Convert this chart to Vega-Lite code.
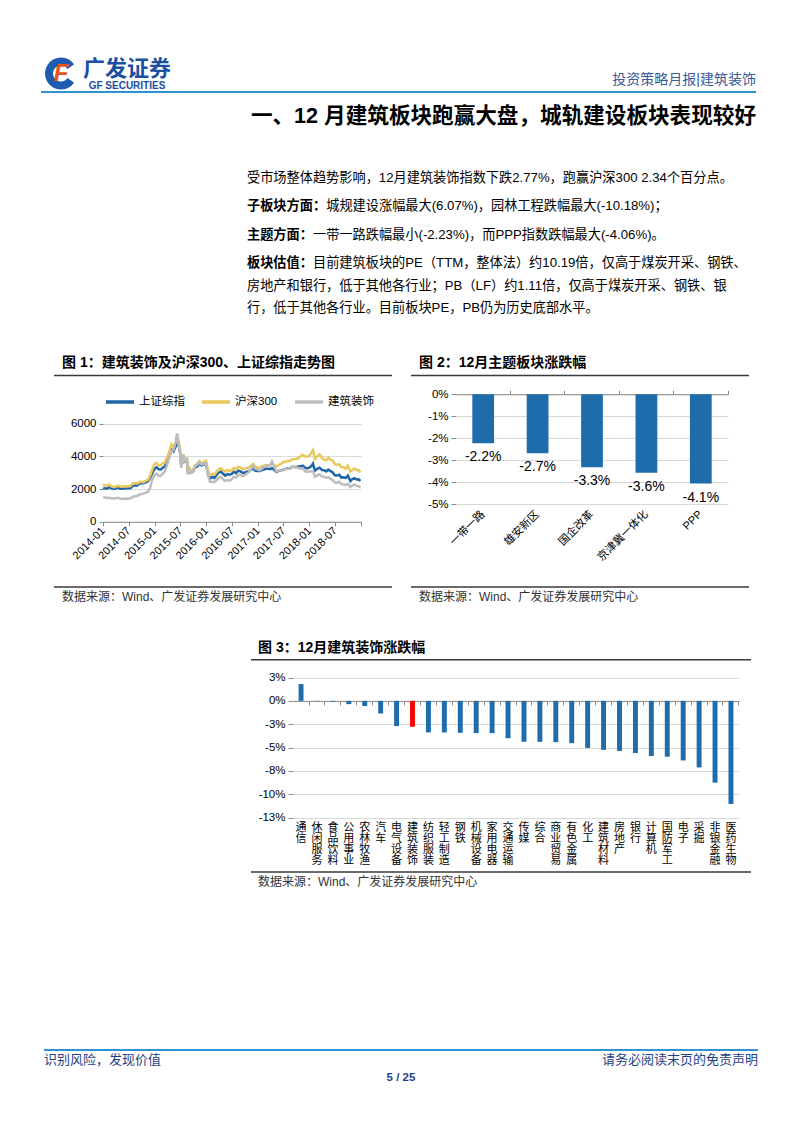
{
  "$schema": "https://vega.github.io/schema/vega-lite/v6.json",
  "background": "#ffffff",
  "padding": {"left": 40, "top": 55, "right": 0, "bottom": 0},
  "config": {
    "font": "Liberation Sans, Noto Sans CJK SC",
    "view": {"stroke": null},
    "mark": {"font": "Liberation Sans, Noto Sans CJK SC"},
    "axis": {"labelFont": "Liberation Sans, Noto Sans CJK SC", "labelColor": "#000000", "labelFontSize": 11, "domainColor": "#898989", "tickColor": "#898989", "gridColor": "#D9D9D9", "title": null},
    "legend": {"labelFont": "Liberation Sans, Noto Sans CJK SC", "labelColor": "#000000"},
    "title": {"font": "Liberation Sans, Noto Sans CJK SC", "color": "#000000"}
  },
  "datasets": {
    "paras": [
      {"para": 1, "lead": "", "first": "受市场整体趋势影响，12月建筑装饰指数下跌2.77%，跑赢沪深300 2.34个百分点。", "rest": ""},
      {"para": 2, "lead": "子板块方面：", "first": "城规建设涨幅最大(6.07%)，园林工程跌幅最大(-10.18%)；", "rest": ""},
      {"para": 3, "lead": "主题方面：", "first": "一带一路跌幅最小(-2.23%)，而PPP指数跌幅最大(-4.06%)。", "rest": ""},
      {"para": 4, "lead": "板块估值：", "first": "目前建筑板块的PE（TTM，整体法）约10.19倍，仅高于煤炭开采、钢铁、", "rest": "房地产和银行，低于其他各行业；PB（LF）约1.11倍，仅高于煤炭开采、钢铁、银\n行，低于其他各行业。目前板块PE，PB仍为历史底部水平。"}
    ],
    "idx": [
      {"date": "2014-01-02", "sh": 2080, "hs": 2290, "jz": 1500},
      {"date": "2014-01-15", "sh": 2030, "hs": 2222, "jz": 1480},
      {"date": "2014-01-31", "sh": 2033, "hs": 2203, "jz": 1450},
      {"date": "2014-02-15", "sh": 2115, "hs": 2280, "jz": 1470},
      {"date": "2014-02-28", "sh": 2056, "hs": 2179, "jz": 1440},
      {"date": "2014-03-15", "sh": 2004, "hs": 2120, "jz": 1420},
      {"date": "2014-03-31", "sh": 2033, "hs": 2146, "jz": 1440},
      {"date": "2014-04-15", "sh": 2105, "hs": 2203, "jz": 1460},
      {"date": "2014-04-30", "sh": 2026, "hs": 2158, "jz": 1420},
      {"date": "2014-05-15", "sh": 2025, "hs": 2155, "jz": 1400},
      {"date": "2014-05-31", "sh": 2039, "hs": 2160, "jz": 1410},
      {"date": "2014-06-15", "sh": 2070, "hs": 2175, "jz": 1420},
      {"date": "2014-06-30", "sh": 2048, "hs": 2165, "jz": 1410},
      {"date": "2014-07-15", "sh": 2067, "hs": 2185, "jz": 1440},
      {"date": "2014-07-31", "sh": 2201, "hs": 2350, "jz": 1520},
      {"date": "2014-08-15", "sh": 2226, "hs": 2367, "jz": 1560},
      {"date": "2014-08-31", "sh": 2217, "hs": 2338, "jz": 1580},
      {"date": "2014-09-15", "sh": 2343, "hs": 2440, "jz": 1660},
      {"date": "2014-09-30", "sh": 2363, "hs": 2450, "jz": 1700},
      {"date": "2014-10-15", "sh": 2373, "hs": 2440, "jz": 1720},
      {"date": "2014-10-31", "sh": 2420, "hs": 2508, "jz": 1780},
      {"date": "2014-11-15", "sh": 2478, "hs": 2565, "jz": 1840},
      {"date": "2014-11-30", "sh": 2683, "hs": 2808, "jz": 2050},
      {"date": "2014-12-15", "sh": 2953, "hs": 3185, "jz": 2600},
      {"date": "2014-12-31", "sh": 3235, "hs": 3534, "jz": 2850},
      {"date": "2015-01-15", "sh": 3336, "hs": 3604, "jz": 2950},
      {"date": "2015-01-31", "sh": 3210, "hs": 3434, "jz": 2800},
      {"date": "2015-02-15", "sh": 3203, "hs": 3451, "jz": 2820},
      {"date": "2015-02-28", "sh": 3310, "hs": 3572, "jz": 2950},
      {"date": "2015-03-15", "sh": 3373, "hs": 3624, "jz": 3100},
      {"date": "2015-03-31", "sh": 3748, "hs": 3973, "jz": 3500},
      {"date": "2015-04-15", "sh": 4084, "hs": 4285, "jz": 3900},
      {"date": "2015-04-30", "sh": 4442, "hs": 4749, "jz": 4300},
      {"date": "2015-05-15", "sh": 4308, "hs": 4589, "jz": 4400},
      {"date": "2015-05-31", "sh": 4612, "hs": 4841, "jz": 4900},
      {"date": "2015-06-10", "sh": 5166, "hs": 5354, "jz": 5400},
      {"date": "2015-06-30", "sh": 4277, "hs": 4473, "jz": 4300},
      {"date": "2015-07-08", "sh": 3507, "hs": 3664, "jz": 3300},
      {"date": "2015-07-24", "sh": 4070, "hs": 4121, "jz": 4100},
      {"date": "2015-07-31", "sh": 3664, "hs": 3816, "jz": 3700},
      {"date": "2015-08-18", "sh": 3749, "hs": 3880, "jz": 3800},
      {"date": "2015-08-26", "sh": 2927, "hs": 3025, "jz": 2900},
      {"date": "2015-08-31", "sh": 3206, "hs": 3366, "jz": 3200},
      {"date": "2015-09-15", "sh": 3005, "hs": 3154, "jz": 3000},
      {"date": "2015-09-30", "sh": 3053, "hs": 3203, "jz": 3050},
      {"date": "2015-10-15", "sh": 3338, "hs": 3469, "jz": 3400},
      {"date": "2015-10-31", "sh": 3383, "hs": 3534, "jz": 3500},
      {"date": "2015-11-15", "sh": 3580, "hs": 3719, "jz": 3650},
      {"date": "2015-11-30", "sh": 3445, "hs": 3566, "jz": 3500},
      {"date": "2015-12-15", "sh": 3510, "hs": 3666, "jz": 3550},
      {"date": "2015-12-31", "sh": 3539, "hs": 3731, "jz": 3600},
      {"date": "2016-01-15", "sh": 2900, "hs": 3118, "jz": 2800},
      {"date": "2016-01-28", "sh": 2655, "hs": 2853, "jz": 2450},
      {"date": "2016-02-15", "sh": 2746, "hs": 2929, "jz": 2450},
      {"date": "2016-02-29", "sh": 2688, "hs": 2877, "jz": 2420},
      {"date": "2016-03-15", "sh": 2864, "hs": 3069, "jz": 2550},
      {"date": "2016-03-31", "sh": 3004, "hs": 3218, "jz": 2700},
      {"date": "2016-04-15", "sh": 3078, "hs": 3272, "jz": 2750},
      {"date": "2016-04-30", "sh": 2938, "hs": 3156, "jz": 2600},
      {"date": "2016-05-15", "sh": 2827, "hs": 3078, "jz": 2500},
      {"date": "2016-05-31", "sh": 2917, "hs": 3170, "jz": 2550},
      {"date": "2016-06-15", "sh": 2887, "hs": 3116, "jz": 2520},
      {"date": "2016-06-30", "sh": 2930, "hs": 3154, "jz": 2600},
      {"date": "2016-07-15", "sh": 3054, "hs": 3281, "jz": 2750},
      {"date": "2016-07-31", "sh": 2979, "hs": 3204, "jz": 2700},
      {"date": "2016-08-15", "sh": 3125, "hs": 3375, "jz": 2880},
      {"date": "2016-08-31", "sh": 3085, "hs": 3327, "jz": 2850},
      {"date": "2016-09-15", "sh": 3003, "hs": 3235, "jz": 2800},
      {"date": "2016-09-30", "sh": 3005, "hs": 3253, "jz": 2850},
      {"date": "2016-10-15", "sh": 3064, "hs": 3300, "jz": 2950},
      {"date": "2016-10-31", "sh": 3100, "hs": 3337, "jz": 3050},
      {"date": "2016-11-15", "sh": 3207, "hs": 3450, "jz": 3250},
      {"date": "2016-11-30", "sh": 3250, "hs": 3538, "jz": 3450},
      {"date": "2016-12-15", "sh": 3117, "hs": 3368, "jz": 3250},
      {"date": "2016-12-31", "sh": 3104, "hs": 3310, "jz": 3200},
      {"date": "2017-01-15", "sh": 3112, "hs": 3320, "jz": 3150},
      {"date": "2017-01-31", "sh": 3159, "hs": 3387, "jz": 3250},
      {"date": "2017-02-15", "sh": 3213, "hs": 3440, "jz": 3380},
      {"date": "2017-02-28", "sh": 3242, "hs": 3452, "jz": 3400},
      {"date": "2017-03-15", "sh": 3241, "hs": 3458, "jz": 3450},
      {"date": "2017-03-31", "sh": 3223, "hs": 3456, "jz": 3500},
      {"date": "2017-04-11", "sh": 3289, "hs": 3499, "jz": 3700},
      {"date": "2017-04-30", "sh": 3155, "hs": 3439, "jz": 3350},
      {"date": "2017-05-11", "sh": 3052, "hs": 3385, "jz": 3100},
      {"date": "2017-05-31", "sh": 3117, "hs": 3493, "jz": 3150},
      {"date": "2017-06-15", "sh": 3132, "hs": 3535, "jz": 3120},
      {"date": "2017-06-30", "sh": 3192, "hs": 3666, "jz": 3180},
      {"date": "2017-07-15", "sh": 3222, "hs": 3660, "jz": 3200},
      {"date": "2017-07-31", "sh": 3273, "hs": 3737, "jz": 3250},
      {"date": "2017-08-15", "sh": 3251, "hs": 3712, "jz": 3250},
      {"date": "2017-08-31", "sh": 3361, "hs": 3822, "jz": 3350},
      {"date": "2017-09-15", "sh": 3354, "hs": 3831, "jz": 3380},
      {"date": "2017-09-30", "sh": 3349, "hs": 3837, "jz": 3320},
      {"date": "2017-10-15", "sh": 3390, "hs": 3913, "jz": 3300},
      {"date": "2017-10-31", "sh": 3393, "hs": 4006, "jz": 3250},
      {"date": "2017-11-14", "sh": 3430, "hs": 4100, "jz": 3280},
      {"date": "2017-11-30", "sh": 3317, "hs": 4006, "jz": 3100},
      {"date": "2017-12-15", "sh": 3266, "hs": 3980, "jz": 3050},
      {"date": "2017-12-31", "sh": 3307, "hs": 4031, "jz": 3080},
      {"date": "2018-01-15", "sh": 3410, "hs": 4225, "jz": 3080},
      {"date": "2018-01-26", "sh": 3558, "hs": 4390, "jz": 3100},
      {"date": "2018-02-09", "sh": 3129, "hs": 3840, "jz": 2750},
      {"date": "2018-02-28", "sh": 3259, "hs": 4023, "jz": 2850},
      {"date": "2018-03-13", "sh": 3310, "hs": 4129, "jz": 2900},
      {"date": "2018-03-31", "sh": 3169, "hs": 3899, "jz": 2780},
      {"date": "2018-04-15", "sh": 3159, "hs": 3808, "jz": 2750},
      {"date": "2018-04-30", "sh": 3082, "hs": 3757, "jz": 2700},
      {"date": "2018-05-15", "sh": 3192, "hs": 3903, "jz": 2720},
      {"date": "2018-05-31", "sh": 3095, "hs": 3802, "jz": 2620},
      {"date": "2018-06-15", "sh": 3021, "hs": 3735, "jz": 2550},
      {"date": "2018-06-30", "sh": 2847, "hs": 3510, "jz": 2400},
      {"date": "2018-07-15", "sh": 2831, "hs": 3493, "jz": 2380},
      {"date": "2018-07-31", "sh": 2876, "hs": 3517, "jz": 2450},
      {"date": "2018-08-15", "sh": 2705, "hs": 3335, "jz": 2300},
      {"date": "2018-08-31", "sh": 2725, "hs": 3335, "jz": 2280},
      {"date": "2018-09-15", "sh": 2682, "hs": 3242, "jz": 2250},
      {"date": "2018-09-30", "sh": 2821, "hs": 3439, "jz": 2320},
      {"date": "2018-10-18", "sh": 2486, "hs": 3083, "jz": 2120},
      {"date": "2018-10-31", "sh": 2603, "hs": 3153, "jz": 2200},
      {"date": "2018-11-15", "sh": 2668, "hs": 3257, "jz": 2280},
      {"date": "2018-11-30", "sh": 2588, "hs": 3173, "jz": 2200},
      {"date": "2018-12-15", "sh": 2594, "hs": 3165, "jz": 2180},
      {"date": "2018-12-28", "sh": 2494, "hs": 3011, "jz": 2100}
    ],
    "themes": [
      {"theme": "一带一路", "value": -2.23, "label": "-2.2%"},
      {"theme": "雄安新区", "value": -2.68, "label": "-2.7%"},
      {"theme": "国企改革", "value": -3.32, "label": "-3.3%"},
      {"theme": "京津冀一体化", "value": -3.57, "label": "-3.6%"},
      {"theme": "PPP", "value": -4.06, "label": "-4.1%"}
    ],
    "sectors": [
      {"industry": "通信", "value": 1.8},
      {"industry": "休闲服务", "value": -0.03},
      {"industry": "食品饮料", "value": -0.08},
      {"industry": "公用事业", "value": -0.35},
      {"industry": "农林牧渔", "value": -0.55},
      {"industry": "汽车", "value": -1.35},
      {"industry": "电气设备", "value": -2.7},
      {"industry": "建筑装饰", "value": -2.77},
      {"industry": "纺织服装", "value": -3.37},
      {"industry": "轻工制造", "value": -3.38},
      {"industry": "钢铁", "value": -3.42},
      {"industry": "机械设备", "value": -3.45},
      {"industry": "家用电器", "value": -3.46},
      {"industry": "交通运输", "value": -4.0},
      {"industry": "传媒", "value": -4.38},
      {"industry": "综合", "value": -4.39},
      {"industry": "商业贸易", "value": -4.42},
      {"industry": "有色金属", "value": -4.53},
      {"industry": "化工", "value": -5.04},
      {"industry": "建筑材料", "value": -5.25},
      {"industry": "房地产", "value": -5.36},
      {"industry": "银行", "value": -5.58},
      {"industry": "计算机", "value": -5.9},
      {"industry": "国防军工", "value": -5.98},
      {"industry": "电子", "value": -6.38},
      {"industry": "采掘", "value": -7.13},
      {"industry": "非银金融", "value": -8.76},
      {"industry": "医药生物", "value": -11.04}
    ]
  },
  "spacing": 0,
  "resolve": {"scale": {"color": "independent"}, "legend": {"color": "independent"}},
  "vconcat": [
    {
      "spacing": 0, "bounds": "flush",
      "hconcat": [
        {
          "width": 40, "height": 37,
          "data": {"values": [{"part": "a", "share": 55}, {"part": "b", "share": 70}, {"part": "c", "share": 235}]},
          "layer": [
            {"mark": {"type": "arc", "radius": 16, "radius2": 8},
             "encoding": {"theta": {"field": "share", "type": "quantitative", "stack": true},
                          "color": {"condition": {"test": "datum.part === 'b'", "value": "rgba(255,255,255,0)"}, "value": "#1E5BB1"},
                          "order": {"field": "part"}}},
            {"data": {"values": [{}]}, "mark": {"type": "text", "text": "F", "fontSize": 24, "fontWeight": "bold", "fontStyle": "italic", "color": "#E8541E"}, "encoding": {}},
            {"data": {"values": [{}]}, "mark": {"type": "rule", "color": "#2E93D4", "strokeWidth": 2},
             "encoding": {"x": {"datum": 0, "type": "quantitative", "scale": {"domain": [0, 1], "nice": false, "zero": false}, "axis": null}, "x2": {"datum": 1},
                          "y": {"datum": 0, "type": "quantitative", "scale": {"domain": [0, 1], "nice": false}, "axis": null}}}
          ]
        },
        {
          "width": 92, "height": 37,
          "data": {"values": [{}]},
          "layer": [
            {"mark": {"type": "text", "text": "广发证券", "fontSize": 22, "fontWeight": "bold", "color": "#1B4F9F", "dy": -5}, "encoding": {}},
            {"mark": {"type": "text", "text": "GF SECURITIES", "fontSize": 10, "fontWeight": "bold", "color": "#1B4F9F", "dy": 12.5}, "encoding": {}},
            {"mark": {"type": "rule", "color": "#2E93D4", "strokeWidth": 2},
             "encoding": {"x": {"datum": 0, "type": "quantitative", "scale": {"domain": [0, 1], "nice": false, "zero": false}, "axis": null}, "x2": {"datum": 1},
                          "y": {"datum": 0, "type": "quantitative", "scale": {"domain": [0, 1], "nice": false}, "axis": null}}}
          ]
        },
        {
          "width": 583, "height": 37,
          "data": {"values": [{}]},
          "layer": [
            {"mark": {"type": "text", "text": "投资策略月报|建筑装饰", "align": "right", "fontSize": 14, "color": "#3A5A9A", "dy": 6.5}, "encoding": {"x": {"value": "width"}}},
            {"mark": {"type": "rule", "color": "#2E93D4", "strokeWidth": 2},
             "encoding": {"x": {"datum": 0, "type": "quantitative", "scale": {"domain": [0, 1], "nice": false, "zero": false}, "axis": null}, "x2": {"datum": 1},
                          "y": {"datum": 0, "type": "quantitative", "scale": {"domain": [0, 1], "nice": false}, "axis": null}}}
          ]
        }
      ]
    },
    {
      "spacing": 0, "bounds": "flush",
      "hconcat": [
        {"width": 206, "height": 1, "data": {"values": [{}]}, "mark": {"type": "point", "size": 0, "opacity": 0, "strokeWidth": 0}, "encoding": {}},
        {"width": 509, "height": 78, "data": {"values": [{}]},
         "mark": {"type": "text", "text": "一、12 月建筑板块跑赢大盘，城轨建设板块表现较好", "align": "right", "fontSize": 21.6, "fontWeight": "bold", "color": "#000000", "dy": -15},
         "encoding": {"x": {"value": "width"}}}
      ]
    },
    {
      "spacing": 0, "bounds": "flush",
      "hconcat": [
        {"width": 206, "height": 150, "data": {"values": [{}]}, "mark": {"type": "point", "size": 0, "opacity": 0, "strokeWidth": 0}, "encoding": {}},
        {
          "width": 509, "height": 85,
          "data": {"name": "paras"},
          "encoding": {"y": {"field": "para", "type": "ordinal", "scale": {"type": "point", "padding": 0}, "axis": null}, "x": {"value": 0}},
          "layer": [
            {"mark": {"type": "text", "align": "left", "baseline": "top", "fontSize": 13.2, "fontWeight": "bold", "color": "#000000"}, "encoding": {"text": {"field": "lead"}}},
            {"transform": [{"filter": "length(datum.lead) == 0"}],
             "mark": {"type": "text", "align": "left", "baseline": "top", "fontSize": 13.2, "color": "#000000"}, "encoding": {"text": {"field": "first"}}},
            {"transform": [{"filter": "length(datum.lead) == 5"}],
             "mark": {"type": "text", "align": "left", "baseline": "top", "fontSize": 13.2, "color": "#000000", "dx": 66}, "encoding": {"text": {"field": "first"}}},
            {"transform": [{"filter": "length(datum.lead) == 6"}],
             "mark": {"type": "text", "align": "left", "baseline": "top", "fontSize": 13.2, "color": "#000000", "dx": 79.2}, "encoding": {"text": {"field": "first"}}},
            {"transform": [{"filter": "length(datum.rest) > 0"}],
             "mark": {"type": "text", "align": "left", "baseline": "top", "fontSize": 13.2, "lineHeight": 22.5, "lineBreak": "\n", "color": "#000000", "dy": 22.5}, "encoding": {"text": {"field": "rest"}}}
          ]
        }
      ]
    },
    {
      "spacing": 0, "bounds": "flush",
      "hconcat": [
        {"width": 13, "height": 1, "data": {"values": [{}]}, "mark": {"type": "point", "size": 0, "opacity": 0, "strokeWidth": 0}, "encoding": {}},
        {
          "width": 338, "height": 53.5, "data": {"values": [{}]},
          "layer": [
            {"mark": {"type": "text", "text": "图 1：建筑装饰及沪深300、上证综指走势图", "align": "left", "fontSize": 14, "fontWeight": "bold", "color": "#000000", "dx": 8, "dy": 14.25}, "encoding": {"x": {"value": 0}}},
            {"mark": {"type": "rule", "color": "#3A3A3A", "strokeWidth": 1.5},
             "encoding": {"x": {"datum": 0, "type": "quantitative", "scale": {"domain": [0, 1], "nice": false, "zero": false}, "axis": null}, "x2": {"datum": 1},
                          "y": {"datum": 0, "type": "quantitative", "scale": {"domain": [0, 1], "nice": false}, "axis": null}}}
          ]
        },
        {"width": 19, "height": 1, "data": {"values": [{}]}, "mark": {"type": "point", "size": 0, "opacity": 0, "strokeWidth": 0}, "encoding": {}},
        {
          "width": 338, "height": 53.5, "data": {"values": [{}]},
          "layer": [
            {"mark": {"type": "text", "text": "图 2：12月主题板块涨跌幅", "align": "left", "fontSize": 14, "fontWeight": "bold", "color": "#000000", "dx": 8, "dy": 14.25}, "encoding": {"x": {"value": 0}}},
            {"mark": {"type": "rule", "color": "#3A3A3A", "strokeWidth": 1.5},
             "encoding": {"x": {"datum": 0, "type": "quantitative", "scale": {"domain": [0, 1], "nice": false, "zero": false}, "axis": null}, "x2": {"datum": 1},
                          "y": {"datum": 0, "type": "quantitative", "scale": {"domain": [0, 1], "nice": false}, "axis": null}}}
          ]
        }
      ]
    },
    {
      "spacing": 0, "bounds": "flush",
      "resolve": {"scale": {"color": "independent"}, "legend": {"color": "independent"}},
      "hconcat": [
        {"width": 61.7, "height": 208.75, "data": {"values": [{}]}, "mark": {"type": "point", "size": 0, "opacity": 0, "strokeWidth": 0}, "encoding": {}},
        {
          "width": 258, "height": 144.75,
          "data": {"name": "idx"},
          "encoding": {
            "x": {"field": "date", "type": "temporal",
                  "scale": {"type": "utc", "domain": [{"year": 2014, "month": 1, "date": 1, "utc": true}, {"year": 2019, "month": 1, "date": 1, "utc": true}], "nice": false},
                  "axis": {"values": [
                    {"year": 2014, "month": 1, "date": 1, "utc": true}, {"year": 2014, "month": 7, "date": 1, "utc": true},
                    {"year": 2015, "month": 1, "date": 1, "utc": true}, {"year": 2015, "month": 7, "date": 1, "utc": true},
                    {"year": 2016, "month": 1, "date": 1, "utc": true}, {"year": 2016, "month": 7, "date": 1, "utc": true},
                    {"year": 2017, "month": 1, "date": 1, "utc": true}, {"year": 2017, "month": 7, "date": 1, "utc": true},
                    {"year": 2018, "month": 1, "date": 1, "utc": true}, {"year": 2018, "month": 7, "date": 1, "utc": true},
                    {"year": 2019, "month": 1, "date": 1, "utc": true}],
                    "labelExpr": "utcyear(datum.value) >= 2019 ? '' : utcFormat(datum.value, '%Y-%m')",
                    "labelAngle": -45, "labelAlign": "right", "labelBaseline": "middle", "labelPadding": 3, "labelFontSize": 11,
                    "tickSize": 4, "grid": false, "domain": true, "labelOverlap": false, "labelBound": false, "labelFlush": false}}
          },
          "layer": [
            {
              "mark": {"type": "line", "strokeWidth": 2.5},
              "encoding": {
                "y": {"field": "sh", "type": "quantitative", "scale": {"domain": [0, 8862], "nice": false},
                      "axis": {"values": [0, 1000, 2000, 3000, 4000, 5000, 6000], "format": "d", "grid": true, "domain": false, "tickSize": 4, "labelPadding": 3, "labelFontSize": 11.5}},
                "color": {"datum": "上证综指", "type": "nominal",
                          "scale": {"domain": ["上证综指", "沪深300", "建筑装饰"], "range": ["#1F66A6", "#E9C85C", "#BDBDBD"]},
                          "legend": {"orient": "none", "legendX": 1, "legendY": 9, "direction": "horizontal", "title": null, "symbolType": "stroke", "symbolStrokeWidth": 3.5, "symbolSize": 784, "labelFontSize": 11.5, "columnPadding": 10, "labelOffset": 3, "padding": 0}}
              }
            },
            {
              "mark": {"type": "line", "strokeWidth": 2.5},
              "encoding": {
                "y": {"field": "hs", "type": "quantitative"},
                "color": {"datum": "沪深300", "type": "nominal"}
              }
            },
            {
              "mark": {"type": "line", "strokeWidth": 2.5},
              "encoding": {
                "y": {"field": "jz", "type": "quantitative"},
                "color": {"datum": "建筑装饰", "type": "nominal"}
              }
            },
            {
              "data": {"values": [{}]},
              "mark": {"type": "rule", "color": "#898989", "strokeWidth": 1},
              "encoding": {
                "x": {"datum": {"year": 2014, "month": 1, "date": 1, "utc": true}, "type": "temporal"},
                "y": {"datum": 0, "type": "quantitative"},
                "y2": {"datum": 6000}
              }
            }
          ]
        },
        {"width": 94.3, "height": 1, "data": {"values": [{}]}, "mark": {"type": "point", "size": 0, "opacity": 0, "strokeWidth": 0}, "encoding": {}},
        {
          "width": 272, "height": 127.25,
          "data": {"name": "themes"},
          "encoding": {"y": {"field": "value", "type": "quantitative", "scale": {"domain": [-5, 0.784], "nice": false, "zero": false},
                             "axis": {"values": [0, -1, -2, -3, -4, -5], "labelExpr": "datum.value + '%'", "grid": true, "tickSize": 5, "labelPadding": 3, "labelFontSize": 11.5, "domain": false}}},
          "layer": [
            {"mark": {"type": "bar", "color": "#1F6CAB"},
             "encoding": {"x": {"field": "theme", "type": "nominal", "sort": null, "scale": {"paddingInner": 0.6, "paddingOuter": 0.3},
                                "axis": {"orient": "bottom", "labelAngle": -45, "labelAlign": "right", "labelBaseline": "middle", "labelPadding": 8, "ticks": false, "domain": false, "grid": false, "labelFontSize": 11, "labelOverlap": false}},
                          "y2": {"datum": 0}}},
            {"mark": {"type": "text", "baseline": "top", "dy": 7, "fontSize": 14, "color": "#000000"},
             "encoding": {"x": {"field": "theme", "type": "nominal", "sort": null,
                                "axis": {"orient": "top", "offset": -17.25, "labels": false, "ticks": true, "tickSize": 4, "bandPosition": 1.75, "domain": true, "grid": false}},
                          "text": {"field": "label"}}},
            {"data": {"values": [{}]},
             "mark": {"type": "rule", "color": "#898989", "strokeWidth": 1},
             "encoding": {"x": {"value": 0}, "y": {"datum": 0, "type": "quantitative"}, "y2": {"datum": -5}}}
          ],
          "resolve": {"axis": {"x": "independent"}}
        }
      ]
    },
    {
      "spacing": 0, "bounds": "flush",
      "hconcat": [
        {"width": 13, "height": 1, "data": {"values": [{}]}, "mark": {"type": "point", "size": 0, "opacity": 0, "strokeWidth": 0}, "encoding": {}},
        {
          "width": 338, "height": 20, "data": {"values": [{}]},
          "layer": [
            {"mark": {"type": "rule", "color": "#3A3A3A", "strokeWidth": 1.5},
             "encoding": {"x": {"datum": 0, "type": "quantitative", "scale": {"domain": [0, 1], "nice": false, "zero": false}, "axis": null}, "x2": {"datum": 1},
                          "y": {"datum": 1, "type": "quantitative", "scale": {"domain": [0, 1], "nice": false}, "axis": null}}},
            {"mark": {"type": "text", "text": "数据来源：Wind、广发证券发展研究中心", "align": "left", "fontSize": 12, "color": "#333333", "dx": 8}, "encoding": {"x": {"value": 0}}}
          ]
        },
        {"width": 19, "height": 1, "data": {"values": [{}]}, "mark": {"type": "point", "size": 0, "opacity": 0, "strokeWidth": 0}, "encoding": {}},
        {
          "width": 338, "height": 20, "data": {"values": [{}]},
          "layer": [
            {"mark": {"type": "rule", "color": "#3A3A3A", "strokeWidth": 1.5},
             "encoding": {"x": {"datum": 0, "type": "quantitative", "scale": {"domain": [0, 1], "nice": false, "zero": false}, "axis": null}, "x2": {"datum": 1},
                          "y": {"datum": 1, "type": "quantitative", "scale": {"domain": [0, 1], "nice": false}, "axis": null}}},
            {"mark": {"type": "text", "text": "数据来源：Wind、广发证券发展研究中心", "align": "left", "fontSize": 12, "color": "#333333", "dx": 8}, "encoding": {"x": {"value": 0}}}
          ]
        }
      ]
    },
    {"width": 1, "height": 25.25, "data": {"values": [{}]}, "mark": {"type": "point", "size": 0, "opacity": 0, "strokeWidth": 0}, "encoding": {}},
    {
      "spacing": 0, "bounds": "flush",
      "hconcat": [
        {"width": 210, "height": 1, "data": {"values": [{}]}, "mark": {"type": "point", "size": 0, "opacity": 0, "strokeWidth": 0}, "encoding": {}},
        {
          "width": 500, "height": 26.7, "data": {"values": [{}]},
          "layer": [
            {"mark": {"type": "text", "text": "图 3：12月建筑装饰涨跌幅", "align": "left", "fontSize": 14, "fontWeight": "bold", "color": "#000000", "dx": 7, "dy": 1.65}, "encoding": {"x": {"value": 0}}},
            {"mark": {"type": "rule", "color": "#3A3A3A", "strokeWidth": 1.5},
             "encoding": {"x": {"datum": 0, "type": "quantitative", "scale": {"domain": [0, 1], "nice": false, "zero": false}, "axis": null}, "x2": {"datum": 1},
                          "y": {"datum": 0, "type": "quantitative", "scale": {"domain": [0, 1], "nice": false}, "axis": null}}}
          ]
        }
      ]
    },
    {
      "spacing": 0, "bounds": "flush",
      "hconcat": [
        {"width": 252, "height": 209.25, "data": {"values": [{}]}, "mark": {"type": "point", "size": 0, "opacity": 0, "strokeWidth": 0}, "encoding": {}},
        {
          "width": 446, "height": 156.55,
          "data": {"name": "sectors"},
          "encoding": {"y": {"field": "value", "type": "quantitative", "scale": {"domain": [-12.5, 4.273], "nice": false, "zero": false},
                             "axis": {"values": [2.5, 0, -2.5, -5, -7.5, -10, -12.5], "labelExpr": "(datum.value < 0 ? '-' + round(-datum.value) : '' + round(datum.value)) + '%'", "grid": true, "tickSize": 5, "labelPadding": 3, "labelFontSize": 11.5, "domain": false}}},
          "layer": [
            {"mark": {"type": "bar"},
             "encoding": {"x": {"field": "industry", "type": "nominal", "sort": null, "scale": {"paddingInner": 0.69, "paddingOuter": 0.35},
                                "axis": {"orient": "bottom", "labelExpr": "split(datum.label, '')", "labelAngle": 0, "labelAlign": "center", "labelBaseline": "top", "labelLineHeight": 11, "labelFontSize": 11, "labelPadding": 4, "ticks": false, "domain": false, "grid": false, "labelOverlap": false}},
                          "y2": {"datum": 0},
                          "color": {"condition": {"test": "datum.industry === '建筑装饰'", "value": "#FF0000"}, "value": "#1F6CAB"}}},
            {"mark": {"type": "bar", "opacity": 0},
             "encoding": {"x": {"field": "industry", "type": "nominal", "sort": null,
                                "axis": {"orient": "bottom", "offset": -116.67, "labels": false, "ticks": true, "tickSize": 4, "bandPosition": 2.113, "domain": true, "grid": false}},
                          "y2": {"datum": 0}}},
            {"data": {"values": [{}]},
             "mark": {"type": "rule", "color": "#898989", "strokeWidth": 1},
             "encoding": {"x": {"value": 0}, "y": {"datum": 2.5, "type": "quantitative"}, "y2": {"datum": -12.5}}}
          ],
          "resolve": {"axis": {"x": "independent"}}
        }
      ]
    },
    {
      "spacing": 0, "bounds": "flush",
      "hconcat": [
        {"width": 210, "height": 1, "data": {"values": [{}]}, "mark": {"type": "point", "size": 0, "opacity": 0, "strokeWidth": 0}, "encoding": {}},
        {
          "width": 500, "height": 20, "data": {"values": [{}]},
          "layer": [
            {"mark": {"type": "rule", "color": "#3A3A3A", "strokeWidth": 1.5},
             "encoding": {"x": {"datum": 0, "type": "quantitative", "scale": {"domain": [0, 1], "nice": false, "zero": false}, "axis": null}, "x2": {"datum": 1},
                          "y": {"datum": 1, "type": "quantitative", "scale": {"domain": [0, 1], "nice": false}, "axis": null}}},
            {"mark": {"type": "text", "text": "数据来源：Wind、广发证券发展研究中心", "align": "left", "fontSize": 12, "color": "#333333", "dx": 7}, "encoding": {"x": {"value": 0}}}
          ]
        }
      ]
    },
    {"width": 1, "height": 156.55, "data": {"values": [{}]}, "mark": {"type": "point", "size": 0, "opacity": 0, "strokeWidth": 0}, "encoding": {}},
    {
      "spacing": 0, "bounds": "flush",
      "hconcat": [
        {"width": 3, "height": 1, "data": {"values": [{}]}, "mark": {"type": "point", "size": 0, "opacity": 0, "strokeWidth": 0}, "encoding": {}},
        {
          "width": 714, "height": 20,
          "data": {"values": [{}]},
          "title": {"text": "5 / 25", "orient": "bottom", "anchor": "middle", "offset": 2, "fontSize": 11.5, "fontWeight": "bold", "color": "#1F3F86"},
          "layer": [
            {"mark": {"type": "rule", "color": "#2E93D4", "strokeWidth": 2},
             "encoding": {"x": {"datum": 0, "type": "quantitative", "scale": {"domain": [0, 1], "nice": false, "zero": false}, "axis": null}, "x2": {"datum": 1},
                          "y": {"datum": 1, "type": "quantitative", "scale": {"domain": [0, 1], "nice": false}, "axis": null}}},
            {"mark": {"type": "text", "text": "识别风险，发现价值", "align": "left", "fontSize": 13, "color": "#1F3F86"}, "encoding": {"x": {"value": 0}}},
            {"mark": {"type": "text", "text": "请务必阅读末页的免责声明", "align": "right", "fontSize": 13, "color": "#1F3F86"}, "encoding": {"x": {"value": "width"}}}
          ]
        }
      ]
    }
  ]
}
